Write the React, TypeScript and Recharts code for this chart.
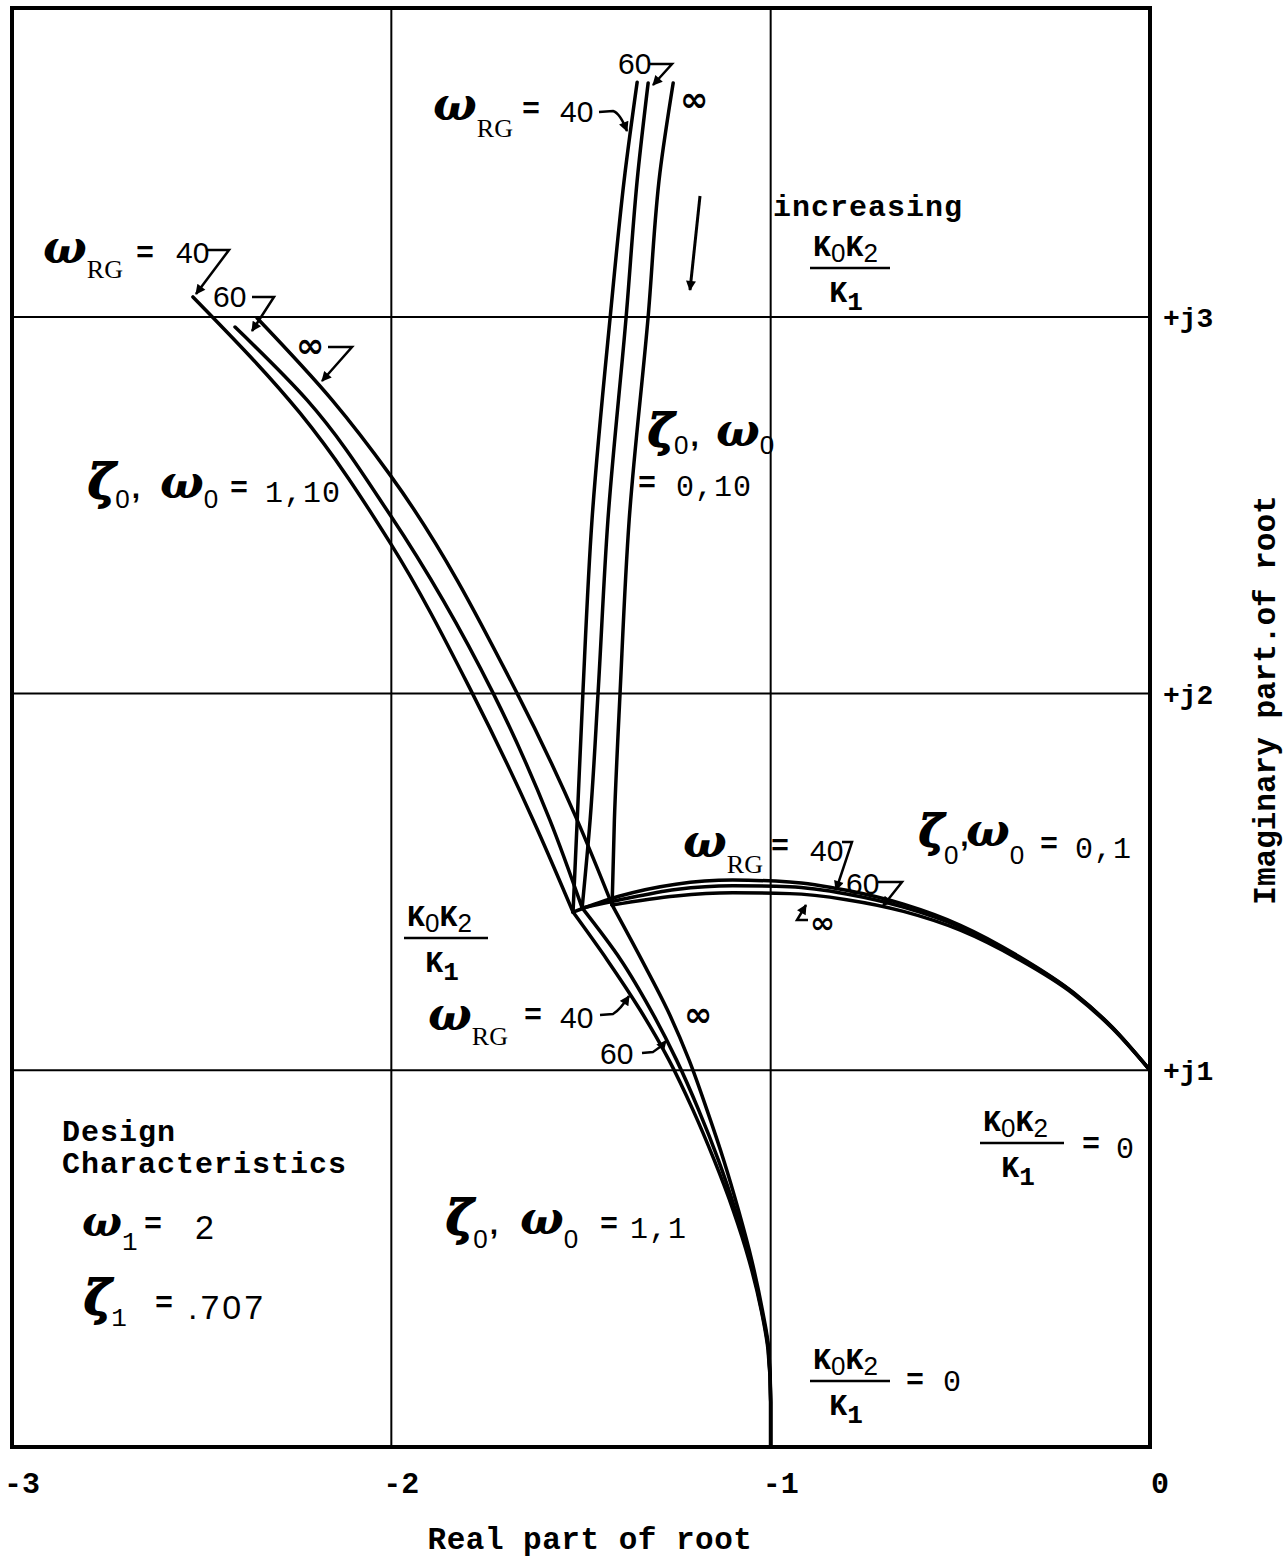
import React from 'react';
import { LineChart, Line, XAxis, YAxis, CartesianGrid, ReferenceArea } from 'recharts';

type Pt = [number, number];

const W = 1284;
const H = 1560;

// axis ticks
const realTicks = [-3, -2, -1, 0];
const imagTicks = [1, 2, 3];
const imagTop = 3.82;

// zeta0, omega0 = 1,10 : breakaway point up to the upper left, one per omega_RG
const z1w10_40: Pt[] = [[-1.521, 1.42], [-1.626, 1.664], [-1.787, 2.002], [-2.003, 2.4], [-2.241, 2.745], [-2.523, 3.053]];
const z1w10_60: Pt[] = [[-1.497, 1.431], [-1.582, 1.664], [-1.732, 2.002], [-2.003, 2.474], [-2.222, 2.779], [-2.412, 2.973]];
const z1w10_inf: Pt[] = [[-1.418, 1.439], [-1.51, 1.664], [-1.669, 2.002], [-2.003, 2.58], [-2.156, 2.779], [-2.354, 2.997]];

// zeta0, omega0 = 0,10 : nearly vertical branches
const z0w10_40: Pt[] = [[-1.521, 1.42], [-1.51, 1.664], [-1.495, 2.002], [-1.471, 2.461], [-1.423, 3.0], [-1.384, 3.382], [-1.352, 3.623]];
const z0w10_60: Pt[] = [[-1.497, 1.431], [-1.476, 1.664], [-1.455, 2.002], [-1.429, 2.461], [-1.381, 3.0], [-1.35, 3.382], [-1.323, 3.621]];
const z0w10_inf: Pt[] = [[-1.418, 1.439], [-1.412, 1.664], [-1.397, 2.002], [-1.373, 2.461], [-1.323, 3.0], [-1.292, 3.382], [-1.257, 3.621]];

// zeta0, omega0 = 0,1 : arc over to +j1
const z0w1_40: Pt[] = [[-1.521, 1.42], [-1.4, 1.462], [-1.25, 1.494], [-1.1, 1.505], [-0.95, 1.5], [-0.8, 1.478], [-0.65, 1.441], [-0.5, 1.385], [-0.35, 1.305], [-0.2, 1.205], [-0.1, 1.115], [0, 1]];
const z0w1_60: Pt[] = [[-1.497, 1.431], [-1.4, 1.452], [-1.25, 1.48], [-1.1, 1.49], [-0.95, 1.487], [-0.8, 1.468], [-0.65, 1.433], [-0.5, 1.38], [-0.35, 1.302], [-0.2, 1.204], [-0.1, 1.114], [0, 1]];
const z0w1_inf: Pt[] = [[-1.418, 1.439], [-1.25, 1.463], [-1.1, 1.471], [-0.95, 1.469], [-0.8, 1.453], [-0.65, 1.422], [-0.5, 1.372], [-0.35, 1.297], [-0.2, 1.201], [-0.1, 1.112], [0, 1]];

// zeta0, omega0 = 1,1 : down to -1 on the real axis
const z1w1_40: Pt[] = [[-1, 0], [-1, 0.12], [-1.007, 0.258], [-1.025, 0.364], [-1.057, 0.496], [-1.099, 0.629], [-1.149, 0.762], [-1.205, 0.895], [-1.268, 1.027], [-1.344, 1.16], [-1.431, 1.293], [-1.521, 1.42]];
const z1w1_60: Pt[] = [[-1, 0], [-1, 0.12], [-1.006, 0.258], [-1.024, 0.364], [-1.054, 0.496], [-1.093, 0.629], [-1.138, 0.762], [-1.19, 0.895], [-1.248, 1.027], [-1.316, 1.16], [-1.395, 1.293], [-1.497, 1.431]];
const z1w1_inf: Pt[] = [[-1, 0], [-1, 0.12], [-1.005, 0.258], [-1.022, 0.364], [-1.05, 0.496], [-1.085, 0.629], [-1.124, 0.762], [-1.168, 0.895], [-1.215, 1.027], [-1.272, 1.16], [-1.34, 1.293], [-1.418, 1.439]];

const toRows = (pts: Pt[]) => pts.map(([x, y]) => ({ x, y }));

const branches = [
  { id: 'z1w10-40', pts: z1w10_40, curve: 'monotoneY' },
  { id: 'z1w10-60', pts: z1w10_60, curve: 'monotoneY' },
  { id: 'z1w10-inf', pts: z1w10_inf, curve: 'monotoneY' },
  { id: 'z0w10-40', pts: z0w10_40, curve: 'monotoneY' },
  { id: 'z0w10-60', pts: z0w10_60, curve: 'monotoneY' },
  { id: 'z0w10-inf', pts: z0w10_inf, curve: 'monotoneY' },
  { id: 'z0w1-40', pts: z0w1_40, curve: 'monotoneX' },
  { id: 'z0w1-60', pts: z0w1_60, curve: 'monotoneX' },
  { id: 'z0w1-inf', pts: z0w1_inf, curve: 'monotoneX' },
  { id: 'z1w1-40', pts: z1w1_40, curve: 'monotoneY' },
  { id: 'z1w1-60', pts: z1w1_60, curve: 'monotoneY' },
  { id: 'z1w1-inf', pts: z1w1_inf, curve: 'monotoneY' },
];

const TYPE = '"Liberation Mono", "DejaVu Sans Mono", monospace';
const LETTER = '"Liberation Sans", "DejaVu Sans", sans-serif';
const GREEK = '"DejaVu Serif", serif';
const ROMAN = '"Liberation Serif", serif';

const RealTick = (p: any) => (
  <text x={p.x + 10} y={p.y + 38} textAnchor="middle" fontFamily={TYPE} fontWeight={700} fontSize={30} fill="#000">
    {p.payload.value}
  </text>
);

const ImagTick = (p: any) => (
  <text x={p.x + 5} y={p.y + 10} textAnchor="start" fontFamily={TYPE} fontWeight={700} fontSize={28} fill="#000">
    {`+j${p.payload.value}`}
  </text>
);

// typewriter text
const Tw = ({ x, y, children, size = 30, weight = 700, anchor = 'start', spacing = 1 }: any) => (
  <text x={x} y={y} fontFamily={TYPE} fontSize={size} fontWeight={weight} textAnchor={anchor} letterSpacing={spacing} fill="#000">
    {children}
  </text>
);

// lettering-guide digits
const Lt = ({ x, y, children, size = 30, spacing = 0 }: any) => (
  <text x={x} y={y} fontFamily={LETTER} fontSize={size} letterSpacing={spacing} fill="#000">
    {children}
  </text>
);

// greek symbol with subscript
const Sym = ({ x, y, ch, sub, size = 46, heavy = false, subFamily = LETTER, subSize = 26, subDy = 12 }: any) => (
  <text x={x} y={y} fill="#000">
    <tspan
      fontFamily={GREEK}
      fontStyle="italic"
      fontWeight={700}
      fontSize={size}
      stroke={heavy ? '#000' : 'none'}
      strokeWidth={heavy ? 1.8 : 0}
    >
      {ch}
    </tspan>
    <tspan fontFamily={subFamily} fontSize={subSize} dy={subDy}>{sub}</tspan>
  </text>
);

// "zeta0, omega0" pair
const ZW = ({ x, y, wx, subDy = 12, size = 46 }: any) => (
  <>
    <text x={x} y={y} fill="#000">
      <tspan fontFamily={GREEK} fontStyle="italic" fontWeight={700} fontSize={size} stroke="#000" strokeWidth={1.8}>ζ</tspan>
      <tspan fontFamily={LETTER} fontSize={26} dy={subDy}>0</tspan>
      <tspan fontFamily={LETTER} fontWeight={700} fontSize={30} dx={2} dy={-subDy}>,</tspan>
    </text>
    <Sym x={wx} y={y} ch="ω" sub="0" subDy={subDy} />
  </>
);

const Inf = ({ x, y, size = 34 }: any) => (
  <text x={x} y={y} fontFamily='"DejaVu Sans", sans-serif' fontWeight={700} fontSize={size} fill="#000">∞</text>
);

// K0K2 / K1
const Frac = ({ x, y, w }: any) => (
  <g>
    <text x={x + 3} y={y - 12} fontFamily={TYPE} fontSize={30} fontWeight={700} fill="#000">
      K<tspan fontFamily={LETTER} fontWeight={400} fontSize={26} dy={6}>0</tspan>
      <tspan dy={-6}>K</tspan>
      <tspan fontFamily={LETTER} fontWeight={400} fontSize={26} dy={6}>2</tspan>
    </text>
    <line x1={x} x2={x + w} y1={y} y2={y} stroke="#000" strokeWidth={2.5} />
    <text x={x + w / 2 - 4} y={y + 34} textAnchor="middle" fontFamily={TYPE} fontSize={30} fontWeight={700} fill="#000">
      K<tspan fontSize={26} dy={8}>1</tspan>
    </text>
  </g>
);

const lead = { fill: 'none', stroke: '#000', strokeWidth: 2.5, markerEnd: 'url(#tip)' };

const Notes = () => (
  <svg width={W} height={H} style={{ position: 'absolute', left: 0, top: 0, pointerEvents: 'none' }}>
    <defs>
      <marker id="tip" viewBox="0 0 10 10" refX="9" refY="5" markerUnits="userSpaceOnUse" markerWidth="12" markerHeight="10" orient="auto">
        <path d="M0,0 L10,5 L0,10 z" fill="#000" />
      </marker>
    </defs>

    {/* upper left branch labels */}
    <Sym x={43} y={263} ch="ω" sub="RG" subFamily={ROMAN} subDy={15} />
    <Tw x={136} y={262}>=</Tw>
    <Lt x={176} y={263}>40</Lt>
    <path d="M206 250 L229 250 L196 294" {...lead} />
    <Lt x={213} y={307}>60</Lt>
    <path d="M252 297 L274 297 L252 331" {...lead} />
    <Inf x={296} y={357} />
    <path d="M328 347 L352 347 L322 381" {...lead} />

    {/* top branch labels */}
    <Sym x={433} y={120} ch="ω" sub="RG" subFamily={ROMAN} subDy={17} />
    <Tw x={522} y={118}>=</Tw>
    <Lt x={560} y={122}>40</Lt>
    <path d="M599 112 L613 111 Q620 113 627 131" {...lead} />
    <Lt x={618} y={74}>60</Lt>
    <path d="M650 64 L672 64 L653 85" {...lead} />
    <Inf x={680} y={111} />

    <Tw x={773} y={216}>increasing</Tw>
    <Frac x={810} y={268} w={80} />
    <path d="M700 196 L690 290" {...lead} strokeWidth={3} />

    <ZW x={88} y={498} wx={160} subDy={10} />
    <Tw x={230} y={497}>=</Tw>
    <Tw x={265} y={502} weight={400}>1,10</Tw>

    <ZW x={648} y={446} wx={716} subDy={8} size={44} />
    <Tw x={638} y={492}>=</Tw>
    <Tw x={676} y={496} weight={400}>0,10</Tw>

    {/* breakaway */}
    <Frac x={404} y={938} w={84} />
    <Sym x={428} y={1030} ch="ω" sub="RG" subFamily={ROMAN} subDy={15} />
    <Tw x={524} y={1024}>=</Tw>
    <Lt x={560} y={1028}>40</Lt>
    <path d="M600 1015 L613 1014 Q620 1010 629 996" {...lead} />
    <Inf x={684} y={1026} />
    <Lt x={600} y={1064}>60</Lt>
    <path d="M642 1053 L653 1052 Q660 1048 666 1041" {...lead} />

    {/* arc labels */}
    <Sym x={683} y={857} ch="ω" sub="RG" subFamily={ROMAN} subDy={16} />
    <Tw x={771} y={855}>=</Tw>
    <Lt x={810} y={861}>40</Lt>
    <path d="M842 842 L852 842 L836 890" {...lead} />
    <Lt x={846} y={894}>60</Lt>
    <path d="M878 882 L902 882 L883 906" {...lead} />
    <path d="M808 920 L797 920 L806 905" {...lead} />
    <Inf x={810} y={933} size={30} />

    <ZW x={919} y={846} wx={966} subDy={18} size={42} />
    <Tw x={1040} y={853}>=</Tw>
    <Tw x={1075} y={858} weight={400}>0,1</Tw>

    <Frac x={980} y={1143} w={84} />
    <Tw x={1082} y={1153}>=</Tw>
    <Tw x={1116} y={1158} weight={400}>0</Tw>

    {/* design characteristics */}
    <Tw x={62} y={1141}>Design</Tw>
    <Tw x={62} y={1173}>Characteristics</Tw>
    <Sym x={82} y={1236} ch="ω" size={42} sub="1" subFamily={TYPE} subDy={14} />
    <Tw x={144} y={1233}>=</Tw>
    <Lt x={195} y={1239} size={34}>2</Lt>
    <Sym x={84} y={1314} ch="ζ" size={46} heavy sub="1" subFamily={TYPE} subDy={12} />
    <Tw x={155} y={1312}>=</Tw>
    <Lt x={188} y={1319} size={34} spacing={3}>.707</Lt>

    <ZW x={446} y={1234} wx={520} subDy={14} />
    <Tw x={600} y={1233}>=</Tw>
    <Tw x={630} y={1238} weight={400}>1,1</Tw>

    <Frac x={810} y={1381} w={80} />
    <Tw x={906} y={1389}>=</Tw>
    <Tw x={943} y={1391} weight={400}>0</Tw>

    {/* axis titles */}
    <Tw x={590} y={1549} size={31} anchor="middle" spacing={0.5}>Real part of root</Tw>
    <text x={1275} y={700} transform="rotate(-90 1275 700)" textAnchor="middle" fontFamily={TYPE} fontWeight={700} fontSize={31} fill="#000">
      Imaginary part.of root
    </text>
  </svg>
);

export default function App() {
  return (
    <div style={{ position: 'absolute', left: 0, top: 0, width: W, height: H, background: '#fff' }}>
      <LineChart width={W} height={H} margin={{ top: 8, right: 54, bottom: 53, left: 12 }}>
        <CartesianGrid stroke="#000" strokeWidth={2} />
        <XAxis
          type="number"
          dataKey="x"
          domain={[-3, 0]}
          ticks={realTicks}
          allowDataOverflow
          axisLine={false}
          tickLine={false}
          height={60}
          tick={RealTick}
        />
        <YAxis
          type="number"
          orientation="right"
          domain={[0, imagTop]}
          ticks={imagTicks}
          allowDataOverflow
          axisLine={false}
          tickLine={false}
          width={80}
          tick={ImagTick}
        />
        {branches.map((b) => (
          <Line
            key={b.id}
            data={toRows(b.pts)}
            dataKey="y"
            type={b.curve as any}
            stroke="#000"
            strokeWidth={3.5}
            strokeLinecap="round"
            dot={false}
            activeDot={false}
            isAnimationActive={false}
          />
        ))}
        <ReferenceArea x1={-3} x2={0} y1={0} y2={imagTop} fill="none" stroke="#000" strokeWidth={4} ifOverflow="visible" />
      </LineChart>
      <Notes />
    </div>
  );
}
